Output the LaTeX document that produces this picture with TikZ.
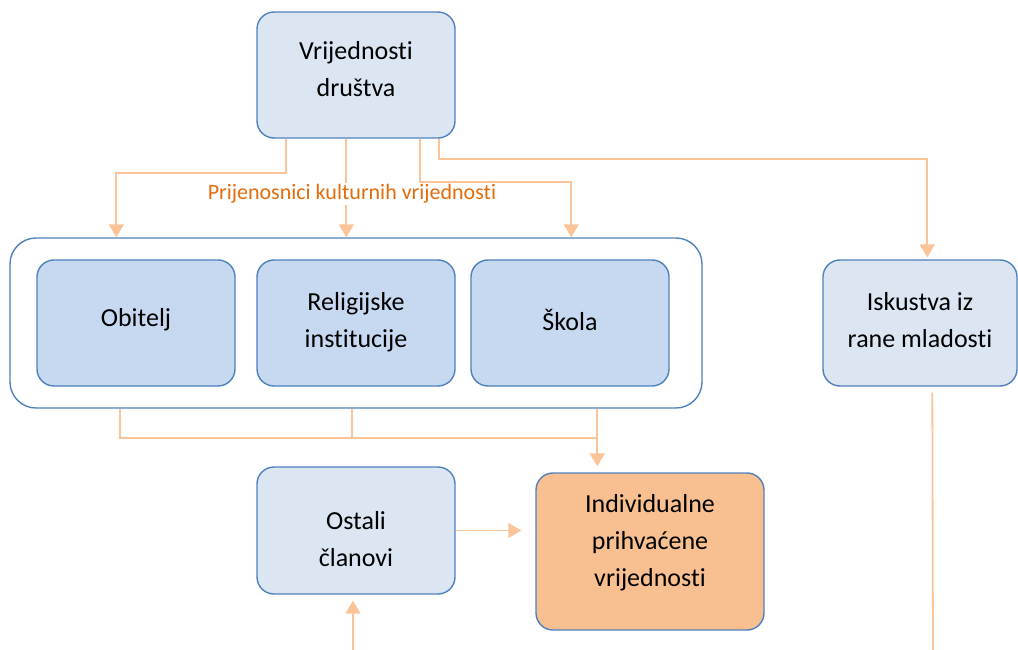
\documentclass[tikz,border=0pt]{standalone}
\usepackage{fontspec}
\setmainfont[Ligatures=NoCommon]{Carlito}
\usetikzlibrary{arrows.meta,calc}
\definecolor{bordblue}{RGB}{79,129,189}
\definecolor{fillA}{RGB}{220,230,242}
\definecolor{fillB}{RGB}{198,217,241}
\definecolor{fillO}{RGB}{248,192,144}
\definecolor{connc}{RGB}{250,196,152}
\definecolor{labc}{RGB}{228,108,10}
\tikzset{
  box/.style={draw=bordblue, line width=1.4pt, rounded corners=17pt, inner sep=0pt},
  txt/.style={align=center, font=\fontsize{26}{37}\selectfont, inner sep=0pt},
  conn/.style={draw=connc, line width=1.8pt},
  arr/.style={conn, -{Triangle[width=15pt,length=13pt]}},
}
\begin{document}
\begin{tikzpicture}[x=1pt,y=-1pt]
\useasboundingbox (0,0) rectangle (1018,650);
\node[box, fill=fillA, minimum width=198pt, minimum height=126pt] (top) at (356,75) {};
\node[txt] (topt) at (356,69) {Vrijednosti\\društva};
\node[box, rounded corners=26pt, fill=white, minimum width=692pt, minimum height=170pt] (cont) at (356,323) {};
\node[box, fill=fillB, minimum width=198pt, minimum height=126pt] (ob) at (136,323) {};
\node[txt] (obt) at (136,320) {Obitelj};
\node[box, fill=fillB, minimum width=198pt, minimum height=126pt] (rel) at (356,323) {};
\node[txt] (relt) at (356,322) {Religijske\\institucije};
\node[box, fill=fillB, minimum width=198pt, minimum height=126pt] (sk) at (570,323) {};
\node[txt] (skt) at (570,320) {Škola};
\node[box, fill=fillA, minimum width=194pt, minimum height=126pt] (isk) at (920,323) {};
\node[txt] (iskt) at (920,320) {Iskustva iz\\rane mladosti};
\node[box, fill=fillA, minimum width=198pt, minimum height=127pt] (ost) at (356,530.5) {};
\node[txt] (ostt) at (356,539) {Ostali\\članovi};
\node[box, fill=fillO, minimum width=228pt, minimum height=157pt] (ind) at (650,551.5) {};
\node[txt] (indt) at (650,543) {Individualne\\prihvaćene\\vrijednosti};
\coordinate (iskend) at (933,652);
\coordinate (ostin) at (353,652);
% from top
\draw[arr] ($(top.south west)+(30,0)$) -- ++(0,34) -| ($(cont.north west)+(107,0)$);
\draw[arr] ($(top.south west)+(90,0)$) -- ($(cont.north west)+(337,0)$);
\node[fill=white, inner sep=1pt, text=labc, font=\fontsize{22}{24}\selectfont] (lab) at (352,194) {Prijenosnici kulturnih vrijednosti};
\draw[arr] ($(top.south west)+(164,0)$) -- ++(0,43) -| ($(cont.north west)+(562,0)$);
\draw[arr, shorten >=2pt] ($(top.south west)+(183,0)$) -- ++(0,20) -| ($(isk.north west)+(105,0)$);
\draw[conn] ($(isk.south west)+(110,6)$) -- (iskend);
% bottom merges
\draw[conn] ($(cont.south west)+(111,0)$) -- ++(0,29) -- ++(477,0);
\draw[conn] ($(cont.south west)+(343,0)$) -- ++(0,29);
\draw[arr, shorten >=6pt] ($(cont.south west)+(588,0)$) -- ($(ind.north west)+(62,0)$);
\draw[arr, shorten >=14pt] (ost.east) -- (ost.east -| ind.west);
\draw[arr, shorten >=6pt] (ostin) -- ($(ost.south)+(-3,0)$);
\end{tikzpicture}
\end{document}
